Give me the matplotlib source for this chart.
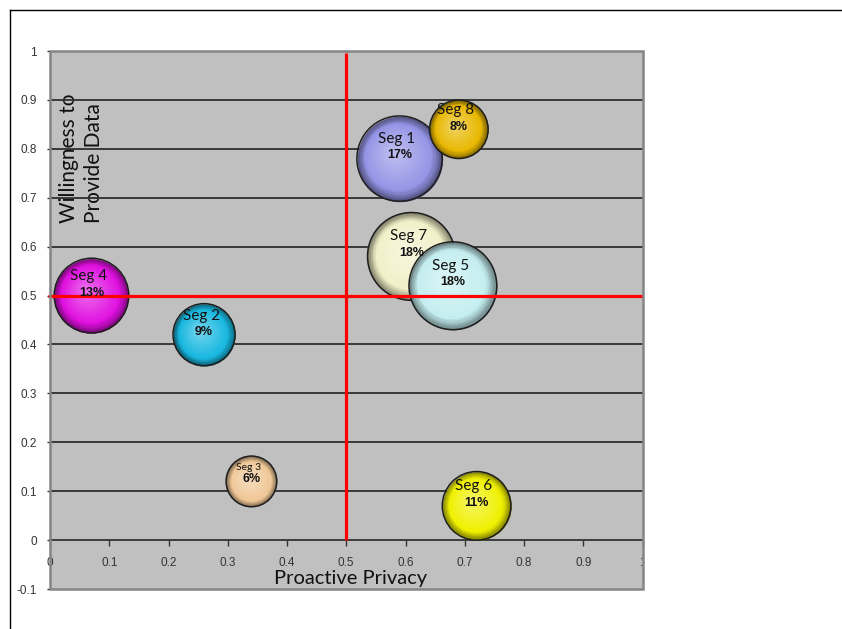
import numpy as np
import matplotlib
matplotlib.use("Agg")
import matplotlib.pyplot as plt
from matplotlib.colors import to_rgb
from matplotlib.lines import Line2D
from matplotlib.patches import Rectangle
from matplotlib.transforms import offset_copy, Bbox

# Segment data (drawing order: earlier bubbles sit underneath later ones)
segments = ["Seg 1", "Seg 8", "Seg 7", "Seg 5", "Seg 4", "Seg 2", "Seg 3", "Seg 6"]
proactive_privacy = [0.59, 0.69, 0.61, 0.68, 0.07, 0.26, 0.34, 0.72]
willingness = [0.78, 0.84, 0.58, 0.52, 0.50, 0.42, 0.12, 0.07]
share_pct = [17, 8, 18, 18, 13, 9, 6, 11]
bubble_colors = ["#9494E6", "#E8B800", "#F2F0C8", "#C4EEF0",
                 "#E010E0", "#18B8E0", "#F0C898", "#F0F000"]

x_ticks = [0, 0.1, 0.2, 0.3, 0.4, 0.5, 0.6, 0.7, 0.8, 0.9, 1]
x_tick_labels = ["0", "0.1", "0.2", "0.3", "0.4", "0.5", "0.6", "0.7", "0.8", "0.9", "1"]
y_ticks = [-0.1, 0, 0.1, 0.2, 0.3, 0.4, 0.5, 0.6, 0.7, 0.8, 0.9, 1]
y_tick_labels = ["-0.1", "0", "0.1", "0.2", "0.3", "0.4", "0.5", "0.6", "0.7", "0.8", "0.9", "1"]

x_divider = 0.5
y_divider = 0.5

W, H, DPI = 842, 629, 100
fig = plt.figure(figsize=(W / DPI, H / DPI), dpi=DPI, facecolor="white")
ax = fig.add_axes([50 / W, 1 - 589 / H, 592.5 / W, 538 / H])
ax.set_facecolor("#C0C0C0")
ax.set_xlim(0, 1)
ax.set_ylim(-0.1, 1)

# horizontal gridlines
for yv in y_ticks:
    if 0 < yv < 1:
        ax.axhline(yv, color="#2E2E2E", lw=1.3, zorder=1)

# plot-area frame
for s in ["top", "right", "left"]:
    ax.spines[s].set_visible(False)
ax.add_patch(Rectangle((0, 0), 1, 1, transform=ax.transAxes, fill=False,
                       edgecolor="#858585", lw=1.8, zorder=200, clip_on=False))
ax.spines["bottom"].set_position(("data", 0))
ax.spines["bottom"].set_color("#333333")
ax.spines["bottom"].set_linewidth(1.3)
ax.spines["bottom"].set_zorder(2)

tick_font = dict(family="Liberation Sans", size=8.5)
ax.set_xticks(x_ticks)
ax.set_xticklabels(x_tick_labels, color="#333333", **tick_font)
ax.set_yticks(y_ticks)
ax.set_yticklabels(y_tick_labels, color="#333333", **tick_font)
ax.tick_params(axis="x", direction="out", length=4, width=1, color="#333333", pad=8)
ax.tick_params(axis="y", direction="out", length=2.5, width=1, color="#333333", pad=7)
label_clip = Bbox([[47, 0], [644, H]])
for t in ax.xaxis.get_major_ticks():
    t.label1.set_clip_on(True)
    t.label1.set_clip_box(label_clip)


def mix(c1, c2, t):
    c1, c2 = np.array(to_rgb(c1)), np.array(to_rgb(c2))
    return tuple(c1 + (c2 - c1) * t)


# shaded spheres built from stacked discs
r_scale = 7.45  # points of radius per sqrt(percent)
n_layers = 26
for i, (seg, xv, yv, pct, col) in enumerate(zip(segments, proactive_privacy,
                                                 willingness, share_pct, bubble_colors)):
    base = to_rgb(col)
    dark = tuple(np.array(base) * 0.55)
    light = mix(base, "white", 0.38)
    r = r_scale * np.sqrt(pct)
    z = 10 + i * 3
    for k in range(n_layers):
        t = k / n_layers
        f = 1 - 0.92 * t
        if t < 0.22:
            c = mix(dark, base, t / 0.22)
        else:
            c = mix(base, light, (t - 0.22) / 0.78)
        tr = offset_copy(ax.transData, fig=fig, x=-0.15 * r * t, y=0.15 * r * t, units="points")
        ax.scatter([xv], [yv], s=(2 * r * f) ** 2, color=[c], lw=0, transform=tr, zorder=z)
    ax.scatter([xv], [yv], s=(2 * r) ** 2, facecolor="none", edgecolor="#1E1E1E",
               lw=1.1, zorder=z + 0.5)
    small = pct < 8
    seg_size = 7.5 if small else 11
    pct_dy = 0.08 * r
    seg_dy = pct_dy + (8.5 if small else 12)
    ax.annotate(seg, (xv, yv), xytext=(-2, seg_dy), textcoords="offset points",
                ha="center", va="center", fontsize=seg_size, family="Lato",
                color="#111111", zorder=110 + i)
    ax.annotate(f"{pct}%", (xv, yv), xytext=(0, pct_dy), textcoords="offset points",
                ha="center", va="center", fontsize=9, family="Liberation Sans",
                fontweight="bold", color="#111111", zorder=110 + i)

# quadrant dividers
ax.plot([x_divider, x_divider], [0, 0.996], color="#FF0000", lw=2.3, zorder=100,
        solid_capstyle="butt")
ax.plot([-0.004, 1], [y_divider, y_divider], color="#FF0000", lw=2.3, zorder=100,
        solid_capstyle="butt", clip_on=False)

# axis titles inside the plot area
ax.text(0.508, 0.02, "Proactive Privacy", transform=ax.transAxes, ha="center",
        va="center", fontsize=14.5, family="Lato", color="#111111", zorder=150)
ax.text(0.053, 0.80, "Willingness to\nProvide Data", transform=ax.transAxes,
        ha="center", va="center", rotation=90, multialignment="left",
        fontsize=15, family="Lato", color="#111111", zorder=0.5, linespacing=1.3)

# outer chart border
fig.add_artist(Line2D([9.5 / W, 9.5 / W], [0, 1 - 9.5 / H], color="black", lw=1))
fig.add_artist(Line2D([9.5 / W, 1], [1 - 9.5 / H, 1 - 9.5 / H], color="black", lw=1))

fig.savefig("out.png", dpi=DPI, facecolor="white")
